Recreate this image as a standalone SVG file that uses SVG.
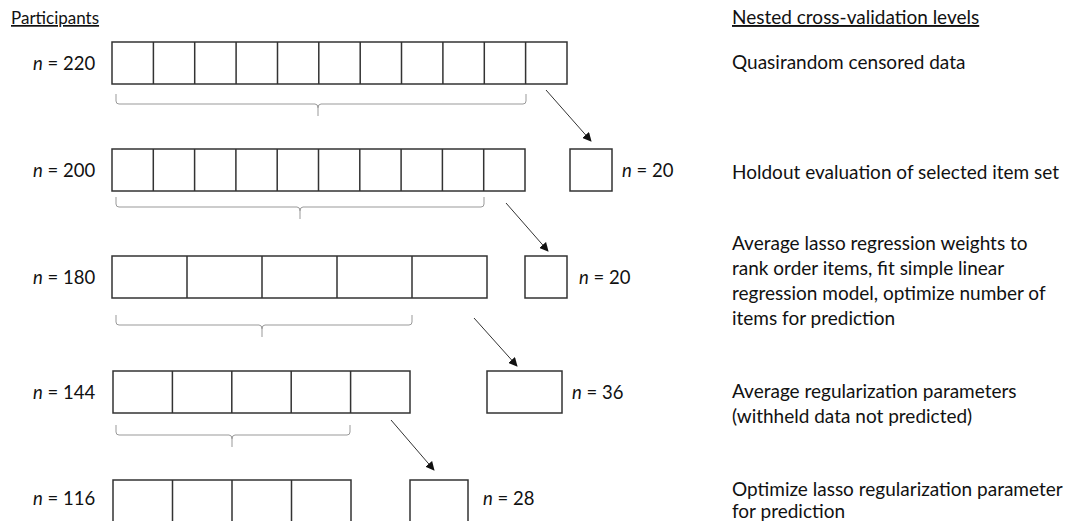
<svg xmlns="http://www.w3.org/2000/svg" width="1070" height="521" viewBox="0 0 1070 521">
<defs>
<style>
text{font-family:Lato,"Open Sans","Liberation Sans",sans-serif;font-size:18.5px;fill:#111}
.hdr{text-decoration:underline}
.lv{font-size:19px}
.cell{fill:#fff;stroke:#333;stroke-width:1.5}
.brace{fill:none;stroke:#999;stroke-width:1}
.arr{fill:none;stroke:#333;stroke-width:1}
</style>
<marker id="ah" viewBox="0 0 10 10" refX="9" refY="5" markerWidth="9" markerHeight="9" markerUnits="userSpaceOnUse" orient="auto">
<path d="M0,0 L10,5 L0,10 z" fill="#111"/>
</marker>
</defs>
<rect width="1070" height="521" fill="#fff"/>
<text class="hdr" x="11" y="24" style="font-size:17px">Participants</text>
<text class="hdr lv" x="732" y="24">Nested cross-validation levels</text>

<g id="row220">
<text x="33" y="70"><tspan font-style="italic">n</tspan> = 220</text>
<rect class="cell" x="112" y="42" width="455" height="42"/>
<path class="cell" d="M153.4,42V84M194.7,42V84M236.1,42V84M277.5,42V84M318.8,42V84M360.2,42V84M401.5,42V84M442.9,42V84M484.3,42V84M525.6,42V84"/>
</g>
<g id="row200">
<text x="33" y="177"><tspan font-style="italic">n</tspan> = 200</text>
<rect class="cell" x="112" y="149" width="413" height="42"/>
<path class="cell" d="M153.3,149V191M194.6,149V191M235.9,149V191M277.2,149V191M318.5,149V191M359.8,149V191M401.1,149V191M442.4,149V191M483.7,149V191"/>
</g>
<g id="hold20a">
<rect class="cell" x="570" y="149" width="42" height="42"/>
<text x="622" y="177"><tspan font-style="italic">n</tspan> = 20</text>
</g>
<g id="row180">
<text x="33" y="284"><tspan font-style="italic">n</tspan> = 180</text>
<rect class="cell" x="112" y="256" width="375" height="42"/>
<path class="cell" d="M187,256V298M262,256V298M337,256V298M412,256V298"/>
</g>
<g id="hold20b">
<rect class="cell" x="525" y="256" width="42" height="42"/>
<text x="579" y="284"><tspan font-style="italic">n</tspan> = 20</text>
</g>
<g id="row144">
<text x="33" y="399"><tspan font-style="italic">n</tspan> = 144</text>
<rect class="cell" x="113" y="371" width="297" height="42"/>
<path class="cell" d="M172.4,371V413M231.8,371V413M291.2,371V413M350.6,371V413"/>
</g>
<g id="hold36">
<rect class="cell" x="487" y="371" width="75" height="42"/>
<text x="572" y="399"><tspan font-style="italic">n</tspan> = 36</text>
</g>
<g id="row116">
<text x="33" y="505"><tspan font-style="italic">n</tspan> = 116</text>
<rect class="cell" x="113" y="480" width="238" height="45"/>
<path class="cell" d="M172.5,480V525M232,480V525M291.5,480V525"/>
</g>
<g id="hold28">
<rect class="cell" x="410" y="480" width="58" height="45"/>
<text x="483" y="505"><tspan font-style="italic">n</tspan> = 28</text>
</g>

<g id="braces">
<path class="brace" d="M116,94V101Q116,104 119,104H315Q318,104 318,108V116M318,108Q318,104 321,104H523Q526,104 526,101V94"/>
<path class="brace" d="M116,197V204Q116,207 119,207H297Q300,207 300,211V219M300,211Q300,207 303,207H481Q484,207 484,204V197"/>
<path class="brace" d="M116,315V322Q116,325 119,325H259Q262,325 262,329V337M262,329Q262,325 265,325H409Q412,325 412,322V315"/>
<path class="brace" d="M116,425V432Q116,435 119,435H229Q232,435 232,439V447M232,439Q232,435 235,435H347Q350,435 350,432V425"/>
</g>

<g id="connectors">
<line class="arr" x1="546" y1="90" x2="591" y2="141" marker-end="url(#ah)"/>
<line class="arr" x1="506" y1="203" x2="548" y2="251" marker-end="url(#ah)"/>
<line class="arr" x1="474" y1="318" x2="517" y2="366" marker-end="url(#ah)"/>
<line class="arr" x1="391" y1="420" x2="434" y2="470" marker-end="url(#ah)"/>
</g>

<g id="levels">
<text class="lv" x="732" y="69">Quasirandom censored data</text>
<text class="lv" x="732" y="179">Holdout evaluation of selected item set</text>
<text class="lv" x="732" y="250">Average lasso regression weights to</text>
<text class="lv" x="732" y="275">rank order items, fit simple linear</text>
<text class="lv" x="732" y="300">regression model, optimize number of</text>
<text class="lv" x="732" y="325">items for prediction</text>
<text class="lv" x="732" y="398">Average regularization parameters</text>
<text class="lv" x="732" y="423">(withheld data not predicted)</text>
<text class="lv" x="732" y="496">Optimize lasso regularization parameter</text>
<text class="lv" x="732" y="518">for prediction</text>
</g>
</svg>
